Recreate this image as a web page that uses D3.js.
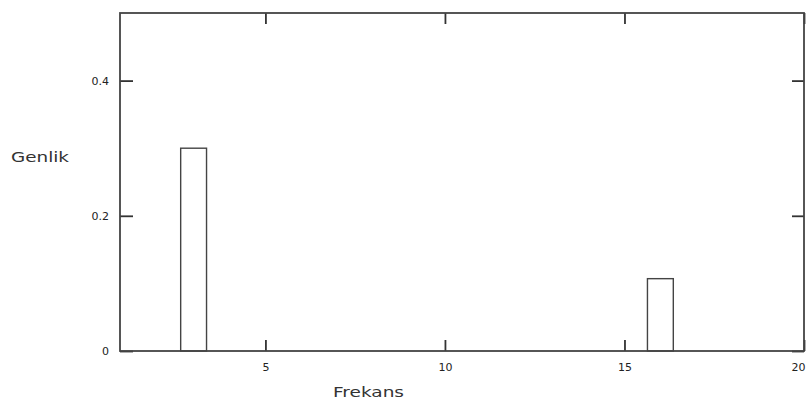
<!DOCTYPE html>
<html>
<head>
<meta charset="utf-8">
<script src="https://cdn.jsdelivr.net/npm/d3@7/dist/d3.min.js"></script>
<style>
  body { margin: 0; background: #fff; }
  .frame { fill: none; stroke: #444; stroke-width: 1.8; }
  .axis path { display: none; }
  .axis line { stroke: #333; stroke-width: 1.8; }
  .axis text { font-family: "DejaVu Sans", sans-serif; font-size: 11px; fill: #222; }
  .axis-label { font-family: "DejaVu Sans", sans-serif; font-size: 14px; fill: #333; }
  .bar { fill: #fff; stroke: #444; stroke-width: 1.4; }
</style>
</head>
<body>
<svg id="chart" width="810" height="407"></svg>
<script>
// spectrum: frequency -> amplitude
const frequencies = [3, 16];
const amplitudes = [0.3, 0.107];
const xTicks = [5, 10, 15, 20];
const yTicks = [0, 0.2, 0.4];

const margin = { top: 13, left: 120, right: 6, bottom: 56 };
const width = 810 - margin.left - margin.right;
const height = 407 - margin.top - margin.bottom;
const barWidth = 0.72;

const svg = d3.select("#chart")
  .append("g")
  .attr("transform", `translate(${margin.left},${margin.top})`);

const xScale = d3.scaleLinear().domain([0.95, 20]).range([0, width]);
const yScale = d3.scaleLinear().domain([0, 0.5]).range([height, 0]);

const data = frequencies.map((f, i) => ({ freq: f, value: amplitudes[i] }));

// bars
svg.selectAll(".bar")
  .data(data)
  .enter()
  .append("rect")
  .attr("class", "bar")
  .attr("x", (d) => xScale(d.freq - barWidth / 2))
  .attr("width", xScale(1 + barWidth) - xScale(1))
  .attr("y", (d) => yScale(d.value))
  .attr("height", (d) => height - yScale(d.value));

// bottom axis, ticks pointing inward
svg.append("g")
  .attr("class", "axis axis__x")
  .attr("transform", `translate(0,${height})`)
  .call(d3.axisBottom(xScale).tickValues(xTicks).tickSize(-11).tickPadding(12).tickFormat(d3.format("d")));

// keep the "20" label inside the page
svg.selectAll(".axis__x .tick text")
  .filter((d) => d === 20)
  .attr("dx", "-6");

// top axis (ticks only)
svg.append("g")
  .attr("class", "axis axis__x-top")
  .call(d3.axisTop(xScale).tickValues(xTicks).tickSize(-11).tickFormat(""));

// left axis
svg.append("g")
  .attr("class", "axis axis__y")
  .call(d3.axisLeft(yScale).tickValues(yTicks).tickSize(-13).tickPadding(11).tickFormat((d) => d === 0 ? "0" : d3.format(".1f")(d)));

// right axis (ticks only)
svg.append("g")
  .attr("class", "axis axis__y-right")
  .attr("transform", `translate(${width},0)`)
  .call(d3.axisRight(yScale).tickValues(yTicks).tickSize(-12).tickFormat(""));

// frame
svg.append("rect")
  .attr("class", "frame")
  .attr("x", 0)
  .attr("y", 0)
  .attr("width", width)
  .attr("height", height);

svg.append("text")
  .attr("class", "axis-label")
  .attr("x", 333 - margin.left)
  .attr("y", height + 46)
  .attr("textLength", 71)
  .attr("lengthAdjust", "spacingAndGlyphs")
  .text("Frekans");

svg.append("text")
  .attr("class", "axis-label")
  .attr("x", 11 - margin.left)
  .attr("y", 162 - margin.top)
  .attr("textLength", 58)
  .attr("lengthAdjust", "spacingAndGlyphs")
  .text("Genlik");
</script>
</body>
</html>
